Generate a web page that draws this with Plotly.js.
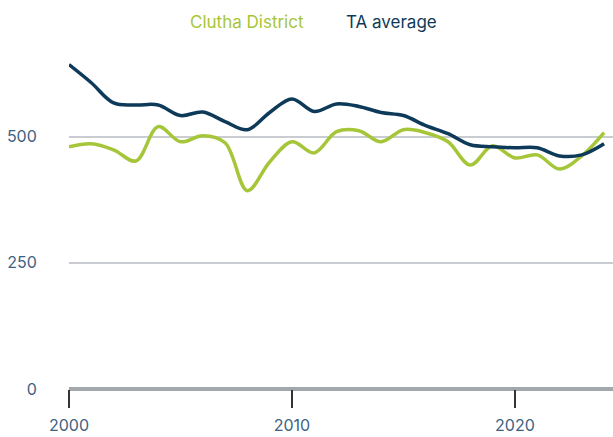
<!DOCTYPE html>
<html><head><meta charset="utf-8">
<script src="https://cdn.plot.ly/plotly-3.0.1.min.js"></script>
<style>html,body{margin:0;padding:0;background:#fff}#chart{width:613px;height:437px}</style>
</head><body><div id="chart"></div>
<script>
const years = [2000,2001,2002,2003,2004,2005,2006,2007,2008,2009,2010,2011,2012,2013,2014,2015,2016,2017,2018,2019,2020,2021,2022,2023,2024];
const clutha = [480,486,474,452,520,490,502,488,393,450,490,468,510,512,490,514,508,490,444,482,458,464,436,462,508];
const taAverage = [643,607,567,563,563,542,549,530,514,548,575,550,565,560,548,542,522,506,484,480,478,478,462,464,486];
const seriesNames = ["Clutha District","TA average"];
const colors = ["#a6c63a","#0e3a5a"];
const yTicks = [0,250,500];
const xTicks = [2000,2010,2020];

const traces = [
  {x: years, y: clutha, name: seriesNames[0], type: "scatter", mode: "lines",
   line: {color: colors[0], width: 3.5, shape: "spline", smoothing: 1}},
  {x: years, y: taAverage, name: seriesNames[1], type: "scatter", mode: "lines",
   line: {color: colors[1], width: 3.5, shape: "spline", smoothing: 1}}
];
const layout = {
  width: 613, height: 437,
  margin: {l: 69, r: 0, t: 56, b: 48},
  paper_bgcolor: "#fff", plot_bgcolor: "#fff",
  showlegend: false,
  font: {family: "Inter, sans-serif", color: "#3d6282", size: 16},
  xaxis: {range: [2000, 2024.4], tickvals: xTicks, ticktext: xTicks.map(String),
    showgrid: false, zeroline: false, showline: false,
    ticks: "outside", ticklen: 18, tickwidth: 2, tickcolor: "#333",
    ticklabelstandoff: 4,
    tickfont: {size: 16, color: "#3d6282"}},
  yaxis: {range: [0, 660], tickvals: yTicks, ticktext: yTicks.map(String),
    showgrid: true, gridcolor: "#c9ccd0", gridwidth: 2,
    zeroline: true, zerolinecolor: "#a3a8ad", zerolinewidth: 3.5,
    showline: false, ticks: "outside", ticklen: 28, tickcolor: "rgba(0,0,0,0)",
    tickfont: {size: 16, color: "#3d6282"}},
  annotations: [
    {xref: "paper", yref: "paper", x: (247-69)/544, y: 1 + (56-22)/333, text: seriesNames[0],
     showarrow: false, xanchor: "center", yanchor: "middle", font: {size: 17, color: colors[0]}},
    {xref: "paper", yref: "paper", x: (391-69)/544, y: 1 + (56-22)/333, text: seriesNames[1],
     showarrow: false, xanchor: "center", yanchor: "middle", font: {size: 17, color: colors[1]}}
  ]
};
Plotly.newPlot("chart", traces, layout, {displayModeBar: false, staticPlot: true});
</script></body></html>
